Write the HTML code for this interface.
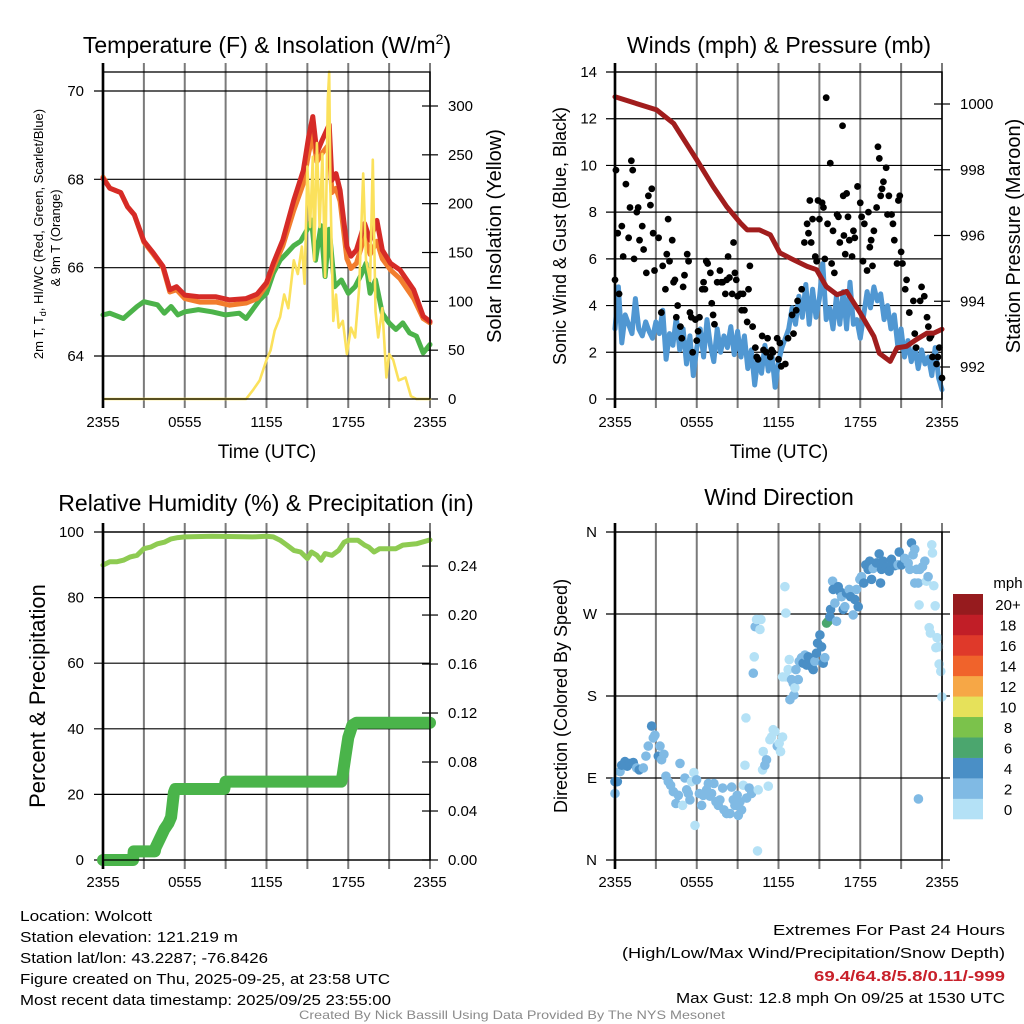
<!DOCTYPE html>
<html><head><meta charset="utf-8"><style>
html,body{margin:0;padding:0;background:#fff;}
svg{display:block;font-family:"Liberation Sans",Arial,sans-serif;}
</style></head><body>
<svg id="chart" width="1024" height="1024" viewBox="0 0 1024 1024" xmlns="http://www.w3.org/2000/svg">
<rect width="1024" height="1024" fill="#fff"/>
<text x="267" y="53" font-size="23" text-anchor="middle">Temperature (F) &amp; Insolation (W/m<tspan font-size="14" dy="-9">2</tspan><tspan dy="9">)</tspan></text>
<text x="779" y="53" font-size="23" text-anchor="middle">Winds (mph) &amp; Pressure (mb)</text>
<text x="266" y="511" font-size="23" text-anchor="middle">Relative Humidity (%) &amp; Precipitation (in)</text>
<text x="779" y="505" font-size="23" text-anchor="middle">Wind Direction</text>
<text x="267" y="458" font-size="19" text-anchor="middle">Time (UTC)</text>
<text x="779" y="458" font-size="19" text-anchor="middle">Time (UTC)</text>
<text transform="translate(43,234) rotate(-90)" font-size="13" text-anchor="middle">2m T, T<tspan font-size="9" dy="3">d</tspan><tspan dy="-3">, HI/WC (Red, Green, Scarlet/Blue)</tspan></text>
<text transform="translate(60,238) rotate(-90)" font-size="13" text-anchor="middle">&amp; 9m T (Orange)</text>
<text transform="translate(501,236) rotate(-90)" font-size="20" text-anchor="middle">Solar Insolation (Yellow)</text>
<text transform="translate(566,236) rotate(-90)" font-size="18" text-anchor="middle">Sonic Wind &amp; Gust (Blue, Black)</text>
<text transform="translate(1020,236) rotate(-90)" font-size="20" text-anchor="middle">Station Pressure (Maroon)</text>
<text transform="translate(45,696) rotate(-90)" font-size="22" text-anchor="middle">Percent &amp; Precipitation</text>
<text transform="translate(567,696) rotate(-90)" font-size="18" text-anchor="middle">Direction (Colored By Speed)</text>
<g font-size="15">
<text x="20" y="921" textLength="132" lengthAdjust="spacingAndGlyphs">Location: Wolcott</text>
<text x="20" y="942" textLength="218" lengthAdjust="spacingAndGlyphs">Station elevation: 121.219 m</text>
<text x="20" y="963" textLength="248" lengthAdjust="spacingAndGlyphs">Station lat/lon: 43.2287; -76.8426</text>
<text x="20" y="984" textLength="370" lengthAdjust="spacingAndGlyphs">Figure created on Thu, 2025-09-25, at 23:58 UTC</text>
<text x="20" y="1005" textLength="371" lengthAdjust="spacingAndGlyphs">Most recent data timestamp: 2025/09/25 23:55:00</text>
</g>
<g font-size="15" text-anchor="end">
<text x="1005" y="935" textLength="232" lengthAdjust="spacingAndGlyphs">Extremes For Past 24 Hours</text>
<text x="1005" y="958" textLength="383" lengthAdjust="spacingAndGlyphs">(High/Low/Max Wind/Precipitation/Snow Depth)</text>
<text x="1005" y="981" fill="#c8202a" font-weight="bold" textLength="191" lengthAdjust="spacingAndGlyphs">69.4/64.8/5.8/0.11/-999</text>
<text x="1005" y="1003" textLength="329" lengthAdjust="spacingAndGlyphs">Max Gust: 12.8 mph On 09/25 at 1530 UTC</text>
</g>
<text x="512" y="1019" font-size="12" fill="#8a8a8a" text-anchor="middle" textLength="426" lengthAdjust="spacingAndGlyphs">Created By Nick Bassill Using Data Provided By The NYS Mesonet</text>
<g id="plots"></g>
</svg>
<script>
const tHours = [0,0.5,1.3,1.8,2.3,3,3.7,4.4,4.9,5.4,6,7.1,8.3,9.3,10.5,11.3,12,12.5,13.2,14,14.7,15.1,15.4,15.7,16.1,16.6,16.8,17.1,17.4,17.9,18.2,18.6,19.2,19.6,20.1,20.5,21.1,21.8,22.8,23.5,24];
const tempRed = [68.02,67.8,67.7,67.38,67.2,66.6,66.33,66.03,65.5,65.57,65.38,65.34,65.34,65.27,65.3,65.4,65.66,66.1,66.63,67.53,68.2,68.97,69.42,68.6,68.9,69.24,67.98,68.13,67.75,66.48,66.26,66.4,67.0,66.62,67.07,66.4,66.1,65.95,65.5,64.9,64.78];
const temp9m = [68.05,67.8,67.7,67.38,67.2,66.58,66.3,66.0,65.45,65.5,65.3,65.22,65.22,65.15,65.2,65.3,65.6,66.0,66.5,67.3,67.9,68.6,69.0,68.4,68.6,68.8,67.7,67.8,67.5,66.2,65.98,66.1,66.7,66.3,66.6,66.2,65.95,65.75,65.3,64.85,64.75];
const tdHours = [0,0.5,1.5,2.5,3,4,4.5,5,5.5,6,7,8,9,10,10.5,11.5,12,12.5,13,13.5,14,14.5,15,15.3,15.6,16,16.3,16.6,17,17.5,18,18.5,19,19.3,19.6,20,20.5,21,21.5,22,22.5,23,23.5,24];
const dewpoint = [64.93,64.97,64.85,65.12,65.23,65.16,64.97,65.12,64.93,65.0,65.05,65.0,64.93,64.97,64.85,65.27,65.42,65.87,66.17,66.33,66.5,66.6,66.87,67.08,66.17,66.95,65.8,66.87,65.57,65.72,65.42,65.57,65.87,66.1,65.42,65.72,64.97,64.75,64.6,64.75,64.52,64.45,64.07,64.26];
const solHours = [0,10.5,11,11.5,12,12.3,12.6,13,13.3,13.6,14,14.3,14.6,14.8,15,15.2,15.4,15.5,15.7,15.9,16.1,16.3,16.5,16.6,16.7,16.9,17.1,17.3,17.6,17.9,18.2,18.5,18.8,19.1,19.3,19.6,19.8,20,20.2,20.5,20.8,21,21.3,21.7,22.2,22.6,23,24];
const solar = [0,0,9,19,40,50,70,84,107,93,142,128,156,118,238,176,248,142,262,176,251,125,306,335,210,80,107,73,80,46,73,63,114,231,142,121,245,90,63,93,22,46,40,19,22,3,0,0];
const tempTicks = [64,66,68,70];
const solarTicks = [0,50,100,150,200,250,300];
const timeLabels = ["2355","0555","1155","1755","2355"];

const presHours = [0,3.06,4.3,6,7.2,8.2,9.2,9.7,10.6,11.4,12.1,13.1,14.1,14.8,15.5,16.3,17,18,19,19.4,20.2,20.7,21.4,22.1,22.9,23.4,24];
const pressure = [1000.22,999.82,999.41,998.3,997.49,996.88,996.38,996.17,996.17,996.02,995.47,995.26,995.06,994.96,994.45,994.2,994.3,993.64,992.93,992.42,992.17,992.58,992.63,992.83,993.03,993.03,993.15];
const sonicWind = [3.0,4.8,2.4,3.6,3.2,2.8,4.3,3.0,2.7,
3.3,2.9,2.6,3.3,2.8,3.8,1.7,2.8,
2.3,3.5,2.1,3.0,1.5,2.7,1.0,2.2,
3.0,1.8,3.4,2.3,1.6,3.0,2.0,2.7,
2.2,3.1,1.9,2.9,1.8,2.7,1.3,2.1,
0.6,1.8,1.1,2.3,1.2,2.0,0.5,1.6,
2.2,2.6,3.0,3.9,3.2,4.4,3.5,4.9,
3.2,4.7,3.5,4.3,5.8,3.4,3.9,3.0,
4.4,3.2,4.6,3.0,5.0,3.2,3.4,2.6,
3.6,4.6,3.9,4.8,4.2,4.5,3.4,4.0,
3.0,3.6,2.3,3.0,1.8,2.5,1.6,2.2,
1.3,2.1,1.5,1.8,1.0,2.2,0.9,0.4];
const sonicStep = 0.25;
const gustHours = [0,0.07,0.2,0.3,0.5,0.6,0.8,1.0,1.1,1.2,1.3,1.4,1.6,1.7,1.8,2.0,2.1,2.3,2.45,2.6,2.7,2.8,2.9,3.2,3.4,3.5,3.7,3.8,3.9,4.0,4.2,4.3,4.4,4.5,4.6,4.8,4.9,5.0,5.1,5.3,5.4,5.5,5.6,5.7,5.9,6.0,6.1,6.2,6.4,6.5,6.6,6.7,6.8,7.0,7.1,7.2,7.3,7.5,7.7,7.8,7.9,8.1,8.2,8.3,8.4,8.6,8.7,8.8,8.9,9.0,9.2,9.3,9.4,9.5,9.7,9.8,9.9,10.1,10.3,10.4,10.5,10.8,10.9,11.1,11.2,11.4,11.5,11.6,11.9,12.0,12.1,12.2,12.5,12.7,13.0,13.1,13.3,13.4,13.7,13.9,14.1,14.2,14.3,14.4,14.5,14.7,14.8,14.9,15.0,15.2,15.3,15.4,15.5,15.6,15.8,15.9,16.0,16.1,16.3,16.4,16.5,16.7,16.75,16.8,16.9,17.0,17.1,17.2,17.4,17.5,17.6,17.8,18.0,18.1,18.2,18.3,18.5,18.6,18.7,18.8,18.9,19.0,19.2,19.3,19.4,19.5,19.6,19.7,19.9,20.0,20.1,20.3,20.4,20.5,20.7,20.8,20.9,21.0,21.1,21.3,21.4,21.6,21.9,22.0,22.1,22.4,22.5,22.7,22.9,23.0,23.1,23.2,23.3,23.6,23.7,23.8,24];
const gusts = [5.1,9.8,7.1,4.5,7.4,6.1,9.2,6.9,8.2,10.2,9.8,6.0,8.0,8.2,6.8,7.4,6.4,5.4,8.7,8.3,9.0,7.1,5.5,6.9,3.7,5.7,4.7,6.2,7.7,5.9,6.8,5.0,5.1,3.5,4.0,3.1,2.6,4.8,5.3,6.2,5.9,3.7,3.5,2.0,3.4,2.5,2.9,3.5,4.7,5.0,4.7,5.9,5.8,5.4,4.1,3.6,3.2,5.0,5.5,5.0,5.0,4.5,5.1,6.1,5.2,4.5,6.7,5.4,5.1,4.4,4.5,3.8,4.5,3.8,3.3,4.7,5.7,3.1,2.2,1.8,1.7,2.7,2.1,2.0,2.6,1.8,2.1,2.0,2.6,1.7,2.4,1.4,1.5,2.6,3.6,2.8,3.8,4.2,4.7,6.7,7.5,7.1,8.5,6.7,7.7,6.1,5.9,8.5,7.7,8.4,8.2,6.0,12.9,7.5,10.1,5.8,7.2,5.4,7.9,7.8,6.7,11.7,8.7,7.0,6.2,8.8,7.8,6.8,6.1,7.2,6.9,9.1,8.4,7.8,5.9,7.5,5.5,8.0,6.5,6.8,5.7,7.2,8.2,10.8,10.3,8.7,9.0,9.3,9.9,7.9,8.7,7.9,7.5,6.8,5.8,8.5,8.7,6.3,5.8,4.7,5.1,3.7,4.2,2.8,2.2,4.2,4.8,4.4,3.5,3.1,2.6,2.7,1.8,1.5,1.8,2.2,0.9];
const windTicks = [0,2,4,6,8,10,12,14];
const pressureTicks = [992,994,996,998,1000];

const rhHours = [0,0.5,1,1.5,2,2.5,3,3.5,4,4.5,5,5.5,6,8,11,12,12.5,13,13.5,14,14.5,15,15.3,15.7,16,16.3,16.8,17.3,17.7,18,18.7,19.2,19.5,19.9,20.3,21,21.5,22,23,24];
const humidity = [89.9,90.9,90.9,91.4,92.4,92.9,94.9,95.4,96.4,96.9,97.9,98.3,98.5,98.7,98.5,98.7,98.5,97.5,96,94.4,93.9,91.9,93.9,92.9,91.4,93.4,92.9,94.4,96.9,97.5,97.5,96,95.4,93.9,94.9,94.9,94.9,96,96.4,97.6];
const precipHours = [0,2.2,2.25,3.8,3.85,4.2,4.5,4.8,5.0,5.1,5.2,5.3,8.9,9.0,17.5,17.6,17.8,18.0,18.3,18.6,24];
const precip = [0,0,0.007,0.007,0.01,0.018,0.025,0.03,0.035,0.045,0.055,0.058,0.058,0.064,0.064,0.07,0.085,0.1,0.11,0.112,0.112];
const rhTicks = [0,20,40,60,80,100];
const precipTicks = [0,0.04,0.08,0.12,0.16,0.20,0.24];
const precipMax = 0.2678;

const dirHours = [0,0,0.17,0.37,0.49,0.73,0.9,1.1,1.34,1.59,1.78,2.08,2.27,2.44,2.69,2.81,2.93,3.18,3.3,3.42,3.59,3.74,3.91,4.08,4.28,4.47,4.65,4.77,4.96,5.13,5.26,5.38,5.5,5.62,5.79,5.87,5.99,6.19,6.36,6.48,6.72,6.85,6.97,7.09,7.26,7.41,7.58,7.7,7.9,8.0,8.19,8.44,8.56,8.68,8.8,8.97,9.05,9.17,9.29,9.41,9.54,9.61,9.66,9.85,10.02,10.15,10.22,10.29,10.39,10.51,10.64,10.71,10.46,10.83,10.88,11.0,11.12,11.25,11.37,11.49,11.61,11.74,11.91,12.05,12.15,12.3,12.3,12.47,12.54,12.54,12.71,12.79,12.84,12.96,13.08,13.13,13.2,13.28,13.45,13.52,13.69,13.81,13.94,14.06,14.18,14.3,14.43,14.55,14.67,14.79,14.87,15.04,15.16,15.28,15.4,15.53,15.65,15.77,15.82,15.97,16.01,16.14,16.26,16.38,16.5,16.63,16.75,16.87,16.99,17.19,17.29,17.48,17.6,17.73,17.85,17.97,18.09,18.26,18.41,18.58,18.7,18.83,18.95,19.19,19.39,19.49,19.56,19.68,19.93,20.12,20.29,20.54,20.78,20.86,21.03,21.27,21.52,21.64,21.76,21.88,22.0,22.0,22.13,22.25,22.32,22.37,22.27,22.57,22.74,22.86,22.98,23.06,23.15,23.25,23.3,23.4,23.5,23.55,23.64,23.74,23.79,23.91,23.99];
const dirDeg = [73,86,86,97,104,108,103,106,107,101,99,101,114,125,147,134,137,114,125,110,116,92,86,82,75,62,71,106,60,90,77,73,66,86,96,38,88,73,60,71,77,84,70,73,84,64,60,66,79,55,51,51,80,66,60,71,49,64,55,82,104,156,68,79,73,205,223,256,264,77,253,264,10,99,119,104,110,81,132,135,143,141,125,128,119,135,201,300,271,201,209,220,176,198,194,181,189,209,198,218,222,216,225,214,223,220,212,209,218,227,238,247,234,216,222,260,262,267,275,306,297,282,262,300,295,289,275,278,293,297,289,269,286,297,278,308,311,304,324,319,328,308,320,326,336,304,319,328,322,317,330,323,324,338,324,331,326,319,348,335,341,304,319,304,280,319,67,322,328,306,311,255,249,346,337,301,279,233,244,234,215,207,179];
const dirSpeed = [3,5,5,3,5,5,5,5,5,3,5,3,3,3,5,3,3,5,3,3,3,3,3,3,3,3,3,3,1,3,3,3,3,1,1,1,3,3,3,3,3,3,3,3,3,3,3,3,3,3,3,3,3,3,3,3,3,3,3,1,1,1,3,3,3,3,1,3,1,1,1,1,1,1,1,3,3,1,1,1,1,1,3,1,1,1,1,1,1,1,1,1,3,3,3,3,1,3,3,3,3,5,3,5,5,5,5,5,3,5,5,5,5,5,3,7,7,5,5,3,5,3,3,5,5,3,5,3,5,3,5,3,5,3,5,3,3,5,5,5,5,5,3,5,5,5,5,5,5,5,5,5,3,5,5,3,3,3,5,3,3,3,3,3,1,3,3,3,3,1,3,1,1,1,1,1,1,1,1,1,1,1,1,1];
const dirLabels = ["N","E","S","W","N"];
const speedLabels = ["0","2","4","6","8","10","12","14","16","18","20+"];
const speedColors = ["#b4e1f6","#80bae4","#4a8fc6","#4ba66e","#7bc24b","#e6e15a","#f6a746","#f0632b","#df392a","#c11e27","#961b1e"];

const NS = "http://www.w3.org/2000/svg";
const root = document.getElementById('plots');
function mk(tag, parent) { const e = document.createElementNS(NS, tag); parent.appendChild(e); return e; }
function at(e, o) { for (const k in o) e.setAttribute(k, o[k]); return e; }
function linear(d0, d1, r0, r1) { return v => r0 + (v - d0) * (r1 - r0) / (d1 - d0); }
function pathD(xs, ys, X, Y) { return xs.map((h, i) => (i ? 'L' : 'M') + X(h).toFixed(1) + ',' + Y(ys[i]).toFixed(1)).join(''); }

function frame(g, x0, x1, y0, y1, labY) {
  const X = linear(0, 24, x0, x1);
  for (let h = 0; h <= 24; h += 3) {
    const l = mk('line', g);
    
    
    at(l, {x1: X(h), x2: X(h), y1: y0 - 9, y2: y1 + 9, stroke: (h === 0) ? '#000' : '#7a7a7a', 'stroke-width': (h === 0) ? 2.4 : 2});
  }
  timeLabels.forEach((t, i) => {
    const tx = mk('text', g);
    
    
    at(tx, {x: X(i * 6), y: labY, 'font-size': 15, 'text-anchor': 'middle'});
    tx.textContent = t;
  });
  return X;
}
function hgrid(g, x0, x1, y, label, lx, anchor) {
  const l = mk('line', g);
  
  
  at(l, {x1: x0 - 9, x2: x1, y1: y, y2: y, stroke: '#000', 'stroke-width': 1.2});
  const t = mk('text', g);
  
  
  at(t, {x: lx, y: y + 5, 'font-size': 15, 'text-anchor': anchor});
  t.textContent = label;
}
function rtick(g, x1, y, label) {
  const l = mk('line', g);
  
  
  at(l, {x1: x1 - 8, x2: x1 + 8, y1: y, y2: y, stroke: '#000', 'stroke-width': 1.2});
  const t = mk('text', g);
  
  
  at(t, {x: x1 + 18, y: y + 5, 'font-size': 15});
  t.textContent = label;
}
function border(g, x0, x1, y0, y1) {
  const r = mk('rect', g);
  
  
  at(r, {x: x0, y: y0, width: x1 - x0, height: y1 - y0, fill: 'none', stroke: '#000', 'stroke-width': 1.3});
  const l = mk('line', g);
  
  
  at(l, {x1: x0, x2: x0, y1: y0 - 9, y2: y1 + 9, stroke: '#000', 'stroke-width': 2.4});
}
function series(g, name, xs, ys, X, Y, color, w) {
  const p = mk('path', g);
  
  
  at(p, {d: pathD(xs, ys, X, Y), fill: 'none', stroke: color, 'stroke-width': w, 'stroke-linejoin': 'round', 'stroke-linecap': 'round'});
}

{
  const g = mk('g', root);
  
  
  const x0 = 103, x1 = 430, y0 = 72, y1 = 399;
  const X = frame(g, x0, x1, y0, y1, 427);
  const Y = linear(70, 64, 91, 356);
  const YS = linear(0, 300, 399, 106);
  tempTicks.forEach(v => hgrid(g, x0, x1, Y(v), String(v), 84, 'end'));
  solarTicks.forEach(v => rtick(g, x1, YS(v), String(v)));
  series(g, 'dewpoint-line', tdHours, dewpoint, X, Y, '#4cb34a', 5);
  series(g, 'temp-9m-line', tHours, temp9m, X, Y, '#f27d2e', 5);
  series(g, 'temp-2m-line', tHours, tempRed, X, Y, '#d62b27', 5);
  series(g, 'solar-insolation-line', solHours, solar, X, YS, '#fbe15c', 2.6);
  border(g, x0, x1, y0, y1);
}
{
  const g = mk('g', root);
  
  
  const x0 = 615, x1 = 942, y0 = 72, y1 = 399;
  const X = frame(g, x0, x1, y0, y1, 427);
  const Y = linear(0, 14, 399, 72);
  const YP = linear(992, 1000, 367, 104);
  windTicks.forEach(v => hgrid(g, x0, x1, Y(v), String(v), 597, 'end'));
  pressureTicks.forEach(v => rtick(g, x1, YP(v), String(v)));
  const sh = sonicWind.map((v, i) => i * sonicStep);
  series(g, 'sonic-wind-line', sh, sonicWind, X, Y, '#5097d2', 5);
  gustHours.forEach((h, i) => {
    const c = mk('circle', g);
    
    
    at(c, {cx: X(h), cy: Y(gusts[i]), r: 3.4, fill: '#000'});
  });
  series(g, 'pressure-line', presHours, pressure, X, YP, '#a11d1d', 5);
  border(g, x0, x1, y0, y1);
}
{
  const g = mk('g', root);
  
  
  const x0 = 103, x1 = 430, y0 = 532, y1 = 860;
  const X = frame(g, x0, x1, y0, y1, 887);
  const Y = linear(0, 100, 860, 532);
  const YP = linear(0, precipMax, 860, 532);
  rhTicks.forEach(v => hgrid(g, x0, x1, Y(v), String(v), 84, 'end'));
  precipTicks.forEach(v => rtick(g, x1, YP(v), v.toFixed(2)));
  series(g, 'relative-humidity-line', rhHours, humidity, X, Y, '#8ecb52', 5);
  series(g, 'precipitation-line', precipHours, precip, X, YP, '#4ab44a', 12);
  border(g, x0, x1, y0, y1);
}
{
  const g = mk('g', root);
  
  
  const x0 = 615, x1 = 942, y0 = 532, y1 = 860;
  const X = frame(g, x0, x1, y0, y1, 887);
  const Y = linear(0, 360, 860, 532);
  dirLabels.forEach((t, i) => hgrid(g, x0, x1 + 8, Y(i * 90), t, 597, 'end'));
  dirHours.forEach((h, i) => {
    const idx = Math.min(10, Math.floor(dirSpeed[i] / 2));
    const c = mk('circle', g);
    
    
    at(c, {cx: X(h), cy: Y(dirDeg[i]), r: 4.8, fill: speedColors[idx]});
  });
  border(g, x0, x1, y0, y1);
  const lg = mk('g', g);
  
  
  const bh = 225 / 11;
  speedLabels.forEach((s, i) => {
    const yy = 819 - (i + 1) * bh;
    const r = mk('rect', lg);
    
    
    at(r, {x: 953, y: yy, width: 30, height: bh + 0.3, fill: speedColors[i]});
    const t = mk('text', lg);
    
    
    at(t, {x: 1008, y: yy + bh / 2 + 6, 'font-size': 15, 'text-anchor': 'middle'});
    t.textContent = s;
  });
  const u = mk('text', lg);
  
  
  at(u, {x: 1008, y: 588, 'font-size': 15, 'text-anchor': 'middle'});
  u.textContent = 'mph';
}
</script>
</body></html>
